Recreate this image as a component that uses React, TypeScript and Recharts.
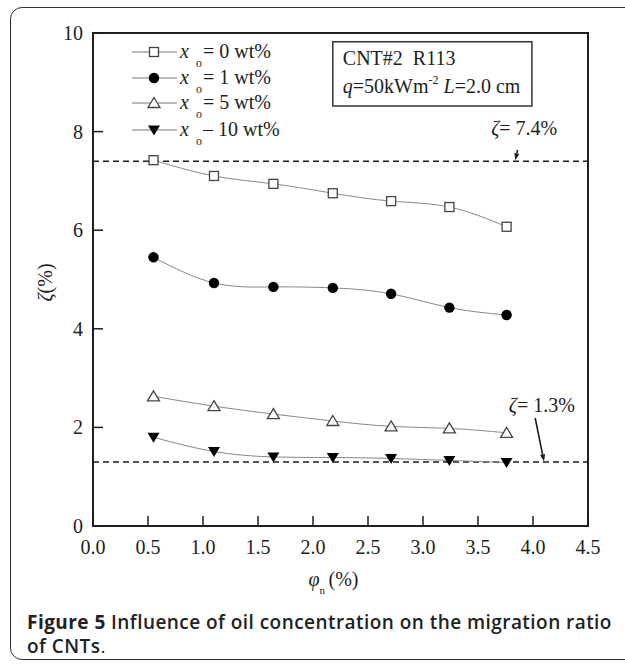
import React from "react"
import {
  LineChart,
  Line,
  XAxis,
  YAxis,
  ReferenceLine,
  ReferenceArea,
  ReferenceDot,
  Legend,
} from "recharts"

// oil mass fraction runs, migration ratio vs nanoparticle volume fraction
const phi = [0.55, 1.1, 1.64, 2.18, 2.71, 3.24, 3.76]
const zeta0 = [7.42, 7.1, 6.94, 6.75, 6.59, 6.47, 6.07]
const zeta1 = [5.45, 4.93, 4.85, 4.83, 4.71, 4.43, 4.28]
const zeta5 = [2.63, 2.43, 2.27, 2.13, 2.02, 1.98, 1.89]
const zeta10 = [1.8, 1.51, 1.4, 1.39, 1.37, 1.33, 1.29]
const seriesKeys = ["x0", "x1", "x5", "x10"]
const seriesText = ["= 0 wt%", "= 1 wt%", "= 5 wt%", "\u2013 10 wt%"]
const markerKinds = ["square", "circle", "up", "down"]
const xTicks = [0, 0.5, 1, 1.5, 2, 2.5, 3, 3.5, 4, 4.5]
const yTicks = [0, 2, 4, 6, 8, 10]
const limitLines = [7.4, 1.3]
const limitText = ["7.4%", "1.3%"]

const data = phi.map((p, i) => ({
  phi: p,
  x0: zeta0[i],
  x1: zeta1[i],
  x5: zeta5[i],
  x10: zeta10[i],
}))

const serif = "Liberation Serif"
const ink = "#1e1e1e"

function Marker({ kind, cx, cy }: { kind: string; cx: number; cy: number }) {
  if (kind === "square")
    return <rect x={cx - 4.5} y={cy - 4.5} width={9} height={9} fill="#fff" stroke="#444" strokeWidth={1.3} />
  if (kind === "circle") return <circle cx={cx} cy={cy} r={5.2} fill="#000" />
  if (kind === "up")
    return (
      <polygon
        points={`${cx},${cy - 5.5} ${cx + 6},${cy + 4.5} ${cx - 6},${cy + 4.5}`}
        fill="#fff"
        stroke="#444"
        strokeWidth={1.3}
      />
    )
  return <polygon points={`${cx - 6},${cy - 4.5} ${cx + 6},${cy - 4.5} ${cx},${cy + 5.5}`} fill="#000" />
}

function LegendBox() {
  const rows = [14, 40, 65, 92]
  return (
    <svg width={200} height={110} style={{ overflow: "visible" }}>
      {rows.map((y, i) => (
        <g key={i}>
          <line x1={12} x2={57} y1={y} y2={y} stroke="#777" strokeWidth={1} />
          <Marker kind={markerKinds[i]} cx={34} cy={y} />
          <text x={60} y={y + 6} fontFamily={serif} fontSize={20} fill={ink}>
            <tspan fontStyle="italic">x</tspan>
          </text>
          <text x={76} y={y + 15} fontFamily={serif} fontSize={12} fill={ink}>
            o
          </text>
          <text x={83} y={y + 6} fontFamily={serif} fontSize={20} fill={ink}>
            {seriesText[i]}
          </text>
        </g>
      ))}
    </svg>
  )
}

const XTick = (p: any) => (
  <text x={p.x} y={p.y + 14} textAnchor="middle" fontFamily={serif} fontSize={20} fill={ink}>
    {Number(p.payload.value).toFixed(1)}
  </text>
)

const YTick = (p: any) => (
  <text x={p.x} y={p.y + 7} textAnchor="end" fontFamily={serif} fontSize={20} fill={ink}>
    {p.payload.value}
  </text>
)

const arrowShape = (p: any) => {
  const { x1, y1, x2, y2 } = p
  const a = Math.atan2(y2 - y1, x2 - x1)
  const len = 7
  const w = 2.6
  const bx = x2 - len * Math.cos(a)
  const by = y2 - len * Math.sin(a)
  const nx = -Math.sin(a) * w
  const ny = Math.cos(a) * w
  return (
    <g>
      <line x1={x1} y1={y1} x2={bx} y2={by} stroke={ink} strokeWidth={1.6} />
      <polygon points={`${x2},${y2} ${bx + nx},${by + ny} ${bx - nx},${by - ny}`} fill={ink} />
    </g>
  )
}

const zetaNote = (txt: string) => (props: any) => {
  const { viewBox } = props
  const cx = viewBox.x + viewBox.width / 2
  const cy = viewBox.y + viewBox.height / 2
  return (
    <text x={cx} y={cy + 7} textAnchor="middle" fontFamily={serif} fontSize={20} fill={ink}>
      <tspan fontStyle="italic">{"\u03b6"}</tspan>= {txt}
    </text>
  )
}

const conditionsLabel = (props: any) => {
  const { viewBox } = props
  const x = viewBox.x + 10
  const y = viewBox.y
  return (
    <g fontFamily={serif} fontSize={20} fill={ink}>
      <text x={x} y={y + 23}>CNT#2{"\u00a0\u00a0"}R113</text>
      <text x={x} y={y + 51}>
        <tspan fontStyle="italic">q</tspan>=50kWm
        <tspan fontSize={12} dy={-9}>-2</tspan>
        <tspan dy={9}> </tspan>
        <tspan fontStyle="italic">L</tspan>=2.0 cm
      </text>
    </g>
  )
}

const xLabel = (props: any) => {
  const { viewBox } = props
  const cx = viewBox.x + viewBox.width / 2 - 8
  const y = viewBox.y + 60
  return (
    <g fontFamily={serif} fill={ink}>
      <text x={cx - 24} y={y} fontSize={20} fontStyle="italic">
        {"\u03c6"}
      </text>
      <text x={cx - 13} y={y + 8} fontSize={11}>
        n
      </text>
      <text x={cx - 4} y={y} fontSize={20}>
        (%)
      </text>
    </g>
  )
}

const yLabel = (props: any) => {
  const { viewBox } = props
  const cx = viewBox.x + 45
  const cy = viewBox.y + viewBox.height / 2 + 3
  return (
    <text
      x={cx}
      y={cy}
      transform={`rotate(-90 ${cx} ${cy})`}
      textAnchor="middle"
      dominantBaseline="central"
      fontFamily={serif}
      fontSize={20}
      fill={ink}
    >
      <tspan fontStyle="italic">{"\u03b6"}</tspan>(%)
    </text>
  )
}

export default function App() {
  return (
    <div style={{ position: "absolute", left: 0, top: 0, width: 625, height: 664, overflow: "hidden", background: "#fff" }}>
      <div
        style={{
          position: "absolute",
          left: 10,
          top: 7,
          width: 640,
          height: 653,
          boxSizing: "border-box",
          border: "1.5px solid #333",
          borderRadius: 12,
        }}
      />
      <LineChart
        width={625}
        height={600}
        data={data}
        margin={{ top: 33, right: 37, bottom: 14, left: 0 }}
        style={{ position: "absolute", left: 0, top: 0 }}
      >
        <XAxis
          dataKey="phi"
          type="number"
          domain={[0, 4.5]}
          ticks={xTicks}
          interval={0}
          height={60}
          tickSize={-10}
          tickMargin={24}
          axisLine={false}
          tickLine={{ stroke: ink, strokeWidth: 1.5 }}
          tick={XTick}
          label={{ content: xLabel }}
        />
        <YAxis
          type="number"
          domain={[0, 10]}
          ticks={yTicks}
          interval={0}
          width={93}
          tickSize={-10}
          tickMargin={20}
          axisLine={false}
          tickLine={{ stroke: ink, strokeWidth: 1.5 }}
          tick={YTick}
          label={{ content: yLabel }}
        />
        <ReferenceArea x1={0} x2={4.5} y1={0} y2={10} fill="none" stroke={ink} strokeWidth={2} fillOpacity={0} ifOverflow="visible" />
        {limitLines.map((v) => (
          <ReferenceLine key={v} y={v} stroke={ink} strokeWidth={1.5} strokeDasharray="6 4" />
        ))}
        <ReferenceArea
          x1={2.18}
          x2={3.99}
          y1={8.52}
          y2={9.82}
          fill="#fff"
          fillOpacity={1}
          stroke="#333"
          strokeWidth={1.5}
          label={{ content: conditionsLabel }}
        />
        <ReferenceLine segment={[{ x: 3.86, y: 7.63 }, { x: 3.84, y: 7.42 }]} shape={arrowShape} />
        <ReferenceLine segment={[{ x: 4.02, y: 2.19 }, { x: 4.1, y: 1.31 }]} shape={arrowShape} />
        <ReferenceDot x={3.92} y={8.07} r={0} fill="none" stroke="none" label={{ content: zetaNote(limitText[0]) }} />
        <ReferenceDot x={4.08} y={2.45} r={0} fill="none" stroke="none" label={{ content: zetaNote(limitText[1]) }} />
        {seriesKeys.map((k, i) => (
          <Line
            key={k}
            dataKey={k}
            type="natural"
            stroke="#888"
            strokeWidth={1}
            isAnimationActive={false}
            dot={(p: any) => (
              <g key={`${k}-${p.index}`}>
                <Marker kind={markerKinds[i]} cx={p.cx} cy={p.cy} />
              </g>
            )}
            activeDot={false}
          />
        ))}
        <Legend
          layout="vertical"
          align="center"
          verticalAlign="middle"
          content={() => <LegendBox />}
          wrapperStyle={{ position: "absolute", left: 120, top: 38, width: 200, height: 110 }}
        />
      </LineChart>
      <div
        style={{
          position: "absolute",
          left: 27,
          top: 610,
          fontFamily: "'Open Sans', sans-serif",
          fontSize: 19,
          letterSpacing: 0.45,
          lineHeight: "24px",
          color: "#222",
          whiteSpace: "nowrap",
          fontWeight: 600,
        }}
      >
        <span style={{ fontWeight: 700 }}>Figure 5</span> Influence of oil concentration on the migration ratio
        <br />
        of CNTs<span style={{ fontWeight: 400 }}>.</span>
      </div>
    </div>
  )
}
